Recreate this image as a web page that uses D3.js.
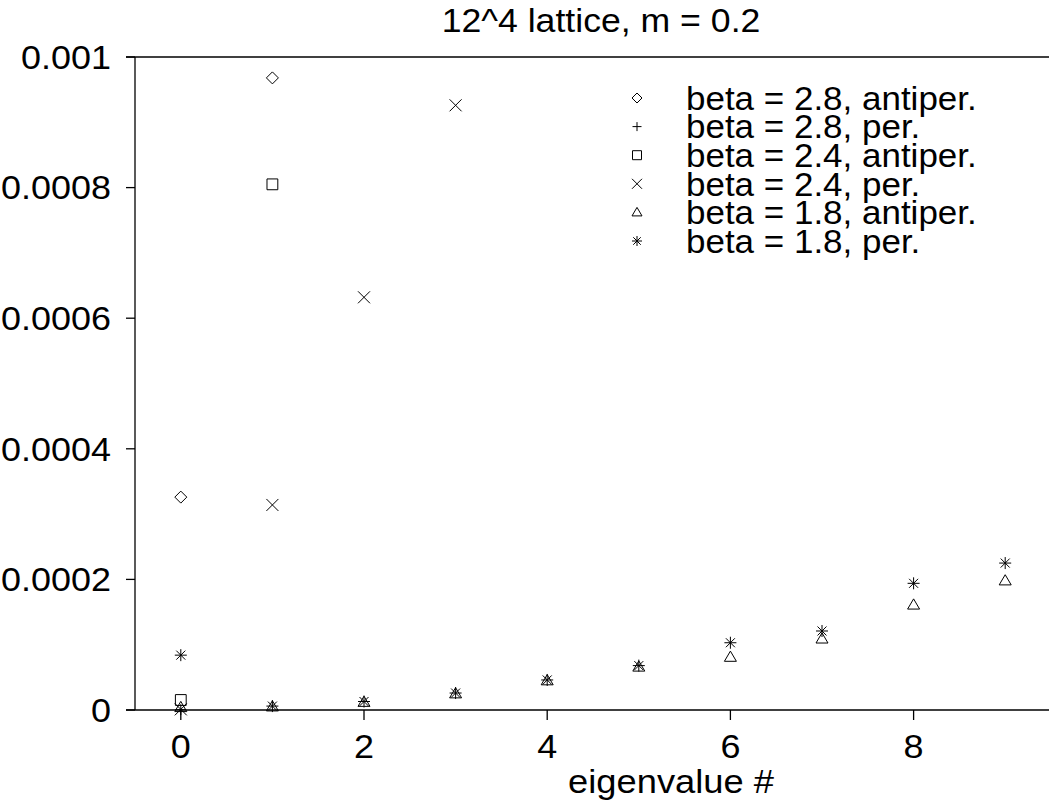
<!DOCTYPE html>
<html><head><meta charset="utf-8">
<script src="https://cdn.jsdelivr.net/npm/d3@7"></script>
<style>
html,body{margin:0;padding:0;background:#fff;}
svg{display:block;}
text{font-family:"Liberation Sans",Arial,sans-serif;fill:#000;}
</style></head>
<body>
<svg id="c" width="1049" height="801"></svg>
<script>
const title = "12^4 lattice, m = 0.2";
const xLabel = "eigenvalue #";
const xTicks = [0, 2, 4, 6, 8];
const yTicks = [0, 0.0002, 0.0004, 0.0006, 0.0008, 0.001];
const yTickLabels = ["0", "0.0002", "0.0004", "0.0006", "0.0008", "0.001"];

const seriesNames = ["beta = 2.8, antiper.", "beta = 2.8, per.", "beta = 2.4, antiper.", "beta = 2.4, per.", "beta = 1.8, antiper.", "beta = 1.8, per."];
const seriesMarkers = ["diamond", "plus", "square", "cross", "triangle", "star"];
// values per eigenvalue index 0..9 (null = outside the plotted range)
const beta28anti = [0.000326, 0.000968, null, null, null, null, null, null, null, null];
const beta28per  = [0.0000005, null, null, null, null, null, null, null, null, null];
const beta24anti = [0.0000153, 0.000805, null, null, null, null, null, null, null, null];
const beta24per  = [0.000001, 0.000314, 0.000632, 0.000926, null, null, null, null, null, null];
const beta18anti = [0.000004, 0.000005, 0.000012, 0.000025, 0.000045, 0.000066, 0.000081, 0.000109, 0.000161, 0.000198];
const beta18per  = [0.000084, 0.000006, 0.000013, 0.000026, 0.000046, 0.000068, 0.000103, 0.000121, 0.000194, 0.000225];
const seriesValues = [beta28anti, beta28per, beta24anti, beta24per, beta18anti, beta18per];

const svg = d3.select("#c");
const pL = 135, pR = 1051, pT = 57, pB = 710;
const x = d3.scaleLinear().domain([-0.5, 9.5]).range([pL, pR]);
const y = d3.scaleLinear().domain([0, 0.001]).range([pB, pT]);
const FS = 33;

function label(parent, tx, ty, str, anchor, sx, dy) {
  return parent.append("text")
    .attr("transform", `translate(${tx},${ty}) scale(${sx},1)`)
    .attr("x", 0).attr("y", 0).attr("dy", dy || 0)
    .attr("text-anchor", anchor).attr("font-size", FS).text(str);
}

function markerPath(type, s) {
  const p = d3.path();
  if (type === "diamond") { p.moveTo(0,-s); p.lineTo(s,0); p.lineTo(0,s); p.lineTo(-s,0); p.closePath(); }
  else if (type === "square") { const h=s*0.9; p.rect(-h,-h,2*h,2*h); }
  else if (type === "plus") { const h=s*0.9; p.moveTo(-h,0); p.lineTo(h,0); p.moveTo(0,-h); p.lineTo(0,h); }
  else if (type === "cross") { const h=s; p.moveTo(-h,-h); p.lineTo(h,h); p.moveTo(-h,h); p.lineTo(h,-h); }
  else if (type === "triangle") { const h=s; p.moveTo(0,-h); p.lineTo(h,h*0.7); p.lineTo(-h,h*0.7); p.closePath(); }
  else if (type === "star") { const h=s; p.moveTo(-h,0); p.lineTo(h,0); p.moveTo(0,-h); p.lineTo(0,h); const k=h*0.75; p.moveTo(-k,-k); p.lineTo(k,k); p.moveTo(-k,k); p.lineTo(k,-k); }
  return p.toString();
}

const g = svg.append("g");
g.append("line").attr("x1", 126).attr("x2", 1049).attr("y1", pT).attr("y2", pT).attr("stroke", "#000").attr("stroke-width", 1.3);
g.append("line").attr("x1", pL).attr("x2", pL).attr("y1", pT).attr("y2", pB).attr("stroke", "#000").attr("stroke-width", 1.3);
g.append("line").attr("x1", 126).attr("x2", 1049).attr("y1", pB).attr("y2", pB).attr("stroke", "#000").attr("stroke-width", 1.3);

yTicks.forEach((t, i) => {
  g.append("line").attr("x1", 126).attr("x2", pL).attr("y1", y(t)).attr("y2", y(t)).attr("stroke", "#000").attr("stroke-width", 1.3);
  label(g, 111, y(t), yTickLabels[i], "end", 1.09, "0.36em");
});
xTicks.forEach(t => {
  g.append("line").attr("x1", x(t)).attr("x2", x(t)).attr("y1", pB).attr("y2", pB + 10).attr("stroke", "#000").attr("stroke-width", 1.3);
  label(g, x(t), 758, String(t), "middle", 1.09);
});

label(svg, 601, 32, title, "middle", 1.08);
label(svg, 671, 793, xLabel, "middle", 1.1);

seriesValues.forEach((vals, si) => {
  const pts = vals.map((v, i) => ({i, v})).filter(d => d.v !== null);
  const gs = svg.append("g");
  gs.selectAll("path").data(pts).enter().append("path")
    .attr("transform", d => `translate(${x(d.i)},${y(d.v)})`)
    .attr("d", markerPath(seriesMarkers[si], 6))
    .attr("fill", "none").attr("stroke", "#000").attr("stroke-width", 1);
});

const legY = d3.scaleLinear().domain([0, 5]).range([98, 241]);
seriesNames.forEach((name, i) => {
  svg.append("path").attr("transform", `translate(637,${legY(i)})`)
    .attr("d", markerPath(seriesMarkers[i], 5)).attr("fill", "none").attr("stroke", "#000").attr("stroke-width", 1);
  label(svg, 686, legY(i), name, "start", 1.06, "0.36em");
});
</script>
</body></html>
